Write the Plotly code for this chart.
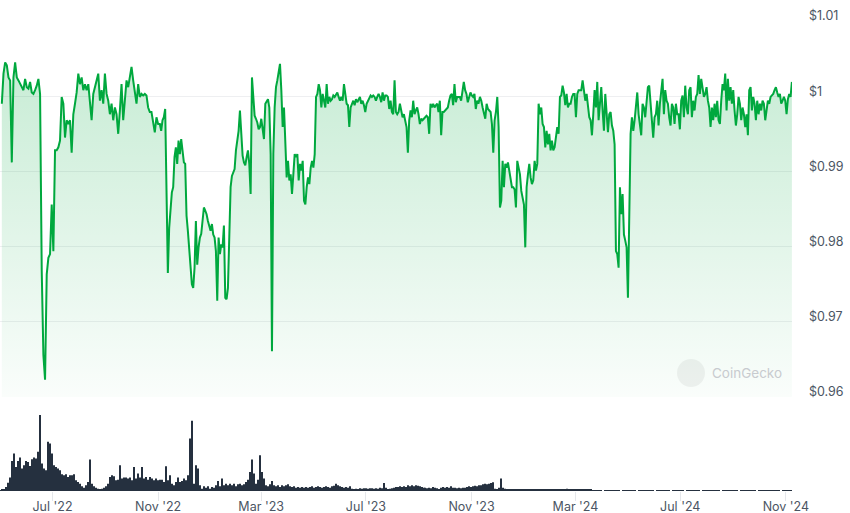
import pandas as pd
import plotly.graph_objects as go

# ---------------- price (USD) in five consecutive stretches ----------------
price_may22_nov22 = [
    0.9990, 1.0030, 1.0045, 1.0041, 1.0025, 1.0021, 0.9912, 1.0025, 1.0045, 1.0025,
    1.0021, 1.0016, 1.0012, 1.0008, 1.0023, 1.0012, 1.0010, 1.0019, 1.0005, 1.0003,
    1.0008, 1.0014, 1.0023, 1.0003, 0.9768, 0.9656, 0.9623, 0.9763, 0.9785, 0.9790,
    0.9856, 0.9794, 0.9928, 0.9928, 0.9932, 0.9941, 0.9999, 0.9990, 0.9945, 0.9968,
    0.9963, 0.9968, 0.9925, 0.9976, 0.9990, 1.0005, 1.0030, 1.0016, 1.0025, 1.0008,
    1.0016, 1.0008, 1.0016, 0.9985, 0.9968, 1.0003, 1.0012, 1.0021, 1.0030, 0.9994,
    1.0008, 0.9990, 1.0030, 1.0003, 0.9994, 0.9976, 0.9990, 0.9968, 0.9985, 0.9976,
    0.9950, 0.9981, 1.0016, 0.9968, 0.9994, 1.0021, 1.0012, 1.0025, 1.0039, 1.0021,
    1.0003, 0.9990, 1.0016, 0.9999, 1.0003, 1.0001, 1.0003, 1.0001, 0.9985, 0.9979,
    0.9979, 0.9968, 0.9952, 0.9972, 0.9963,
]
price_nov22_may23 = [
    0.9963, 0.9954, 0.9968, 0.9972, 0.9983, 0.9879, 0.9765, 0.9825, 0.9856, 0.9872,
    0.9879, 0.9919, 0.9932, 0.9910, 0.9941, 0.9923, 0.9943, 0.9923, 0.9912, 0.9910,
    0.9841, 0.9821, 0.9794, 0.9772, 0.9750, 0.9745, 0.9772, 0.9834, 0.9776, 0.9799,
    0.9812, 0.9817, 0.9839, 0.9852, 0.9848, 0.9843, 0.9834, 0.9825, 0.9821, 0.9830,
    0.9816, 0.9812, 0.9794, 0.9728, 0.9812, 0.9790, 0.9803, 0.9799, 0.9828, 0.9732,
    0.9730, 0.9745, 0.9808, 0.9879, 0.9894, 0.9899, 0.9903, 0.9928, 0.9941, 0.9954,
    0.9981, 0.9945, 0.9921, 0.9912, 0.9908, 0.9919, 0.9928, 0.9910, 0.9870, 1.0025,
    0.9999, 0.9974, 0.9970, 0.9965, 0.9956, 0.9959, 0.9970, 0.9959, 0.9943, 0.9990,
    0.9994, 0.9996, 0.9985, 0.9923, 0.9661, 0.9923, 0.9985, 1.0012, 1.0021, 1.0034,
    1.0043, 1.0008, 0.9959, 0.9985, 0.9928, 0.9892, 0.9914, 0.9888, 0.9896, 0.9870,
    0.9896, 0.9923, 0.9919, 0.9923, 0.9888, 0.9910, 0.9901, 0.9914, 0.9861, 0.9856,
    0.9879, 0.9892, 0.9883, 0.9905, 0.9914, 0.9905, 0.9923, 0.9999, 1.0003, 1.0016,
]
price_may23_nov23 = [
    1.0008, 0.9985, 1.0003, 0.9994, 0.9985, 1.0016, 0.9990, 0.9999, 0.9994, 0.9996,
    1.0001, 0.9999, 1.0003, 1.0005, 0.9999, 0.9994, 0.9999, 0.9994, 1.0016, 0.9999,
    0.9990, 0.9988, 0.9959, 0.9985, 0.9990, 0.9994, 0.9988, 0.9996, 0.9992, 0.9996,
    0.9999, 0.9990, 0.9994, 0.9988, 0.9979, 0.9990, 0.9994, 0.9999, 1.0001, 0.9999,
    1.0001, 0.9999, 0.9994, 0.9999, 1.0003, 0.9999, 0.9992, 1.0005, 0.9994, 1.0001,
    1.0001, 0.9999, 0.9983, 0.9994, 0.9979, 0.9976, 1.0021, 0.9979, 0.9976, 0.9979,
    0.9990, 0.9981, 0.9972, 0.9976, 0.9968, 0.9959, 0.9925, 0.9968, 0.9981, 0.9972,
    0.9994, 0.9976, 0.9981, 0.9985, 0.9976, 0.9963, 0.9970, 0.9968, 0.9970, 0.9972,
    0.9974, 0.9972, 0.9950, 0.9990, 0.9985, 0.9990, 0.9985, 0.9988, 0.9990, 0.9979,
    0.9994, 0.9948, 0.9979, 0.9979, 0.9981, 0.9983, 0.9985, 0.9994, 1.0001, 1.0003,
    0.9988, 1.0016, 0.9992, 0.9999, 0.9999, 0.9999, 0.9994, 1.0008, 1.0019, 1.0008,
    1.0003, 0.9992, 0.9999, 1.0005, 1.0001, 0.9999, 1.0003, 0.9983, 0.9994, 0.9990,
]
price_nov23_may24 = [
    0.9999, 0.9994, 0.9985, 0.9976, 0.9970, 0.9990, 0.9983, 0.9981, 0.9979, 0.9963,
    0.9925, 0.9968, 0.9979, 0.9999, 0.9959, 0.9852, 0.9861, 0.9914, 0.9879, 0.9910,
    0.9905, 0.9912, 0.9901, 0.9892, 0.9879, 0.9879, 0.9876, 0.9852, 0.9914, 0.9905,
    0.9896, 0.9874, 0.9865, 0.9856, 0.9799, 0.9879, 0.9896, 0.9910, 0.9892, 0.9883,
    0.9888, 0.9914, 0.9901, 0.9910, 0.9990, 0.9976, 0.9985, 0.9963, 0.9959, 0.9932,
    0.9954, 0.9936, 0.9950, 0.9928, 0.9941, 0.9928, 0.9932, 0.9945, 0.9959, 0.9950,
    0.9999, 1.0001, 1.0014, 1.0005, 0.9988, 1.0003, 0.9985, 0.9990, 0.9990, 0.9999,
    1.0003, 1.0003, 0.9972, 1.0003, 1.0008, 1.0008, 1.0008, 1.0021, 1.0008, 0.9994,
    1.0003, 0.9985, 0.9972, 0.9968, 0.9948, 0.9976, 1.0008, 0.9985, 1.0019, 0.9968,
    0.9990, 1.0012, 0.9981, 0.9954, 1.0003, 0.9968, 0.9952, 0.9976, 0.9979, 0.9961,
    0.9954, 0.9936, 0.9794, 0.9790, 0.9772, 0.9879, 0.9843, 0.9870, 0.9816, 0.9808,
    0.9799, 0.9732, 0.9879, 0.9950, 0.9972, 0.9954, 0.9968, 0.9990, 1.0005, 0.9976,
]
price_may24_nov24 = [
    0.9963, 0.9948, 0.9990, 0.9985, 0.9972, 0.9994, 1.0012, 1.0014, 0.9990, 0.9968,
    0.9945, 0.9972, 0.9976, 0.9994, 0.9961, 0.9990, 1.0008, 1.0023, 0.9976, 1.0008,
    0.9994, 0.9990, 0.9972, 0.9961, 0.9990, 0.9985, 0.9963, 0.9990, 0.9976, 0.9976,
    0.9956, 0.9994, 1.0001, 0.9972, 1.0014, 0.9985, 0.9976, 1.0008, 1.0012, 0.9972,
    0.9994, 0.9981, 0.9999, 1.0003, 1.0028, 1.0003, 1.0023, 1.0012, 0.9999, 1.0003,
    1.0012, 0.9994, 0.9985, 0.9959, 0.9985, 0.9968, 0.9990, 0.9972, 0.9994, 0.9968,
    0.9963, 0.9994, 1.0016, 1.0008, 1.0030, 0.9981, 1.0023, 0.9994, 1.0012, 0.9990,
    1.0008, 0.9981, 0.9961, 0.9976, 0.9999, 0.9990, 0.9968, 0.9985, 0.9976, 0.9959,
    0.9976, 0.9948, 1.0008, 1.0012, 0.9981, 0.9999, 0.9990, 0.9968, 0.9994, 0.9976,
    0.9990, 0.9981, 0.9994, 0.9990, 0.9968, 0.9981, 0.9994, 0.9990, 0.9999, 1.0001,
    1.0003, 1.0008, 1.0012, 1.0005, 0.9999, 1.0003, 0.9990, 0.9994, 0.9999, 0.9994,
    0.9976, 0.9996, 1.0003, 0.9999, 1.0019,
]
price_spans = [
    ("2022-05-03", "2022-11-01", price_may22_nov22),
    ("2022-11-03", "2023-05-07", price_nov22_may23),
    ("2023-05-08 12:00", "2023-11-09", price_may23_nov23),
    ("2023-11-10 18:00", "2024-05-13 12:00", price_nov23_may24),
    ("2024-05-15", "2024-11-08", price_may24_nov24),
]

# ---------------- 24h volume (relative units) ----------------
volume_may22_sep23 = [
    3, 4, 5, 12, 25, 40, 90, 112, 72, 90, 100, 67, 77, 90, 87, 75, 95, 100, 97, 117, 227,
    82, 67, 62, 147, 142, 112, 77, 72, 67, 62, 50, 47, 50, 42, 47, 47, 50, 32, 27, 22, 14, 10, 17, 27, 94,
    22, 14, 10, 7, 4, 7, 10, 14, 22, 42, 47, 44, 32, 34, 77, 37, 40, 40, 37, 40, 32, 72, 37, 52, 40,
    72, 37, 42, 34, 42, 37, 32, 37, 32, 34, 34, 27, 74, 32, 47, 22, 17, 27, 40, 27, 30, 37, 32, 47,
    157, 210, 22, 77, 67, 17, 7, 14, 10, 14, 7, 12, 10, 17, 30, 14, 37, 17, 22, 17, 22, 17, 22, 14,
    20, 22, 17, 20, 27, 34, 57, 94, 52, 22, 34, 107, 57, 37, 17, 14, 20, 30, 17, 14, 17, 12, 17, 14,
    17, 20, 14, 12, 14, 10, 12, 10, 12, 10, 12, 10, 12, 14, 10, 12, 14, 12, 10, 12, 14, 12, 10, 14,
    16, 22, 17, 14, 12, 10, 12, 10, 14, 7, 6, 7, 6, 8, 7, 8, 8, 7, 8, 8, 7, 8, 7, 10, 8, 24, 10, 6,
    7, 8, 10, 12, 12, 14, 12, 14, 12, 17, 14, 17, 14, 17, 16, 14, 12, 10,
]
volume_sep23_nov24 = [
    10, 8, 10, 8, 12, 10, 8, 6, 10, 12, 10, 12, 10, 14, 10, 10, 8, 10, 8, 10, 10, 12, 14, 12,
    14, 16, 14, 17, 17, 20, 22, 20, 22, 24, 26, 7, 6, 10, 37, 10, 7, 6, 5, 6,
    5, 6, 5, 5, 6, 5, 6, 6, 5, 5, 6, 5, 5, 6, 5, 6, 5, 5, 6, 6, 5, 6, 5, 5, 6, 5, 6, 7, 5, 6,
    5, 5, 6, 5, 6, 5, 4, 6, 5, 4,
    3, 2, 3, 3, 2, 0, 3, 3, 2, 3, 3, 3, 2, 3, 0, 3, 2, 3, 3, 2, 3, 3, 0, 2, 3, 3, 2, 3, 3, 2,
    3, 0, 3, 3, 2, 3, 2, 3, 3, 0, 2, 3, 3, 3, 2, 3, 0, 3, 3, 2, 3, 3, 2, 3, 0, 3, 3, 2, 3, 3,
    3, 2, 3, 3, 0, 2, 3, 3, 2, 3, 3, 3, 2, 0, 3, 3, 2, 3, 3, 2, 3, 3, 0, 3, 3, 2, 3, 3, 2, 3,
    3, 2, 3, 3, 0, 3, 2, 3, 3, 2,
]
volume_spans = [
    ("2022-04-30 21:00", "2023-09-06 14:00", volume_may22_sep23),
    ("2023-09-07 16:00", "2024-11-07 08:00", volume_sep23_nov24),
]

# ---------------- axis ticks ----------------
price_ticks = [0.96, 0.97, 0.98, 0.99, 1.00, 1.01]
price_tick_labels = ["$0.96", "$0.97", "$0.98", "$0.99", "$1", "$1.01"]
date_ticks = ["2022-07-01", "2022-11-01", "2023-03-01", "2023-07-01",
              "2023-11-01", "2024-03-01", "2024-07-01", "2024-11-01"]
date_tick_labels = ["Jul '22", "Nov '22", "Mar '23", "Jul '23",
                    "Nov '23", "Mar '24", "Jul '24", "Nov '24"]

# ---------------- build series ----------------
price_x, price_y = [], []
for start, end, vals in price_spans:
    price_x += list(pd.date_range(start, end, periods=len(vals)))
    price_y += vals

vol_x, vol_y = [], []
for start, end, vals in volume_spans:
    vol_x += list(pd.date_range(start, end, periods=len(vals)))
    vol_y += vals

GREEN = "#00a83e"
TICK_FONT = dict(family="Inter, 'Noto Sans', sans-serif", size=12.5, color="#4b5563")

fig = go.Figure()
fig.add_trace(go.Scatter(
    x=price_x, y=price_y, mode="lines",
    line=dict(color=GREEN, width=2),
    fill="tozeroy",
    fillgradient=dict(type="vertical", start=0.96, stop=1.005,
                      colorscale=[[0, "rgba(0,168,62,0.02)"], [1, "rgba(0,168,62,0.22)"]]),
    xaxis="x", yaxis="y", hoverinfo="skip", showlegend=False,
))
fig.add_trace(go.Bar(
    x=vol_x, y=vol_y, marker=dict(color="#25303f", line=dict(width=0)),
    xaxis="x", yaxis="y2", hoverinfo="skip", showlegend=False,
))

# watermark
fig.add_shape(type="circle", xref="paper", yref="paper",
              x0=677 / 792, x1=705 / 792, y0=(491 - 387) / 470, y1=(491 - 359) / 470,
              fillcolor="rgba(0,0,0,0.05)", line=dict(width=0), layer="above")
fig.add_annotation(text="CoinGecko", xref="paper", yref="paper",
                   x=747 / 792, y=(491 - 373) / 470, xanchor="center", yanchor="middle",
                   showarrow=False,
                   font=dict(family="Inter, 'Noto Sans', sans-serif", size=13.5, color="#c8cbcf"))

fig.update_layout(
    width=850, height=513,
    margin=dict(l=0, r=58, t=21, b=22, autoexpand=False),
    paper_bgcolor="white", plot_bgcolor="white",
    bargap=0.15, hovermode=False,
    xaxis=dict(
        type="date", range=["2022-04-30 21:00", "2024-11-08 03:00"],
        anchor="y2", showgrid=False, zeroline=False, showline=False, automargin=False,
        tickmode="array", tickvals=date_ticks, ticktext=date_tick_labels,
        ticks="outside", ticklen=9, tickcolor="#e5e7eb", tickwidth=1,
        ticklabelstandoff=-5, tickfont=TICK_FONT,
    ),
    yaxis=dict(
        domain=[0.2, 1], range=[0.96, 1.01], side="right", anchor="x", automargin=False,
        tickmode="array", tickvals=price_ticks, ticktext=price_tick_labels,
        showgrid=True, gridcolor="#eeeff1", gridwidth=1, zeroline=False, showline=False,
        ticks="", ticklabelstandoff=16, ticklabelshift=-5, tickfont=TICK_FONT,
    ),
    yaxis2=dict(
        domain=[0, 91 / 470], range=[0, 272], anchor="x", visible=False,
    ),
)

fig.write_html("out.html", config={"displayModeBar": False},
               post_script="document.body.style.margin='0';")
